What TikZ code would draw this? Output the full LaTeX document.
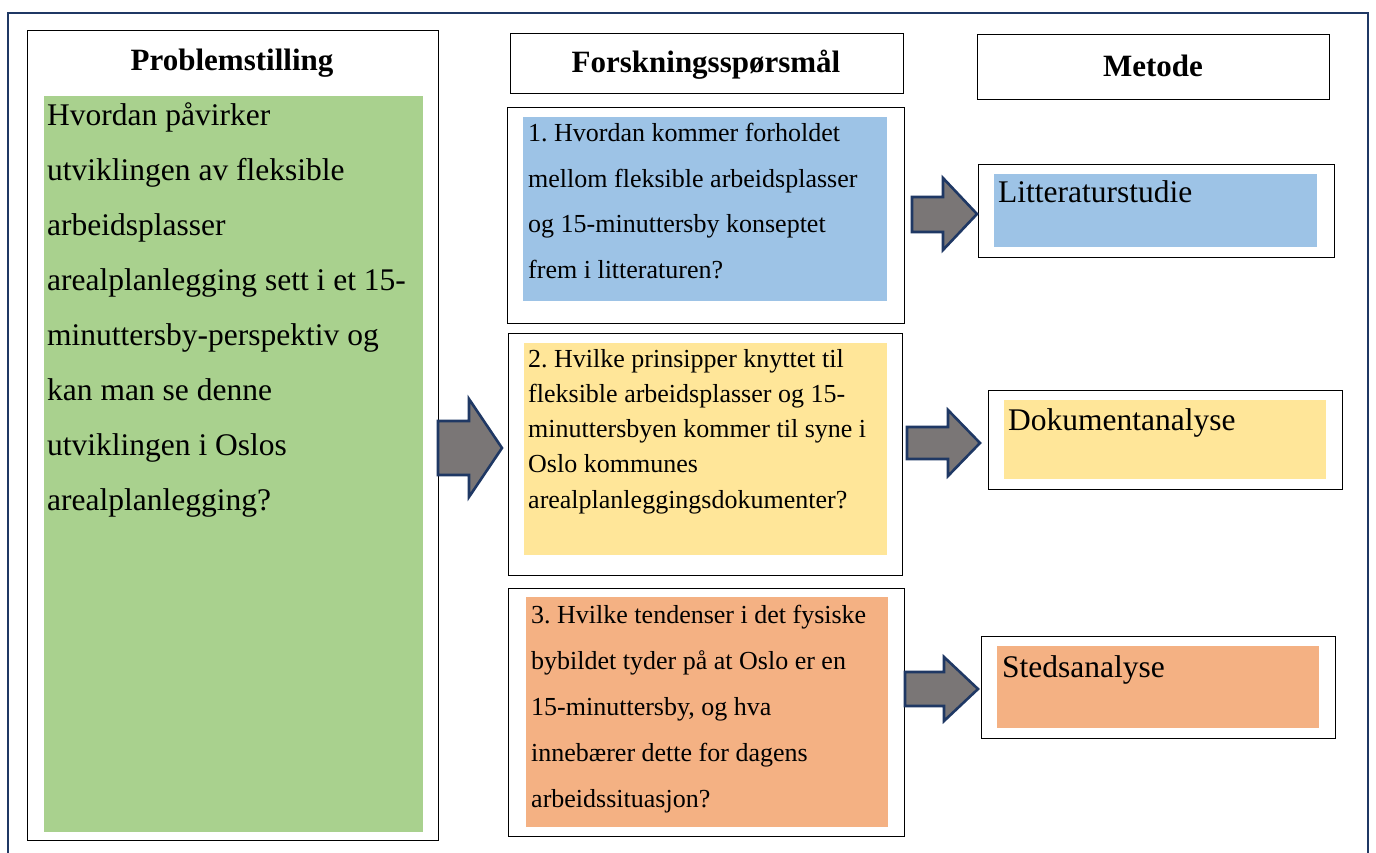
\documentclass[tikz,border=0pt]{standalone}
\usepackage{fontspec}
\setmainfont{Liberation Serif}
\frenchspacing
\definecolor{navy}{HTML}{1F3864}
\definecolor{pgreen}{HTML}{A9D18E}
\definecolor{pblue}{HTML}{9DC3E6}
\definecolor{pyellow}{HTML}{FFE699}
\definecolor{porange}{HTML}{F4B183}
\definecolor{arrowgray}{HTML}{7A7676}
\begin{document}
\begin{tikzpicture}[x=1pt,y=-1pt,
  outerbox/.style={draw=black,line width=1.4pt,fill=white,inner sep=0pt,anchor=north west},
  fillbox/.style={draw=none,inner sep=0pt,anchor=north west},
  headtext/.style={font=\fontsize{31}{36}\selectfont\bfseries,inner sep=0pt,anchor=base},
  blockarrow/.style={draw=navy,line width=2.6pt,fill=arrowgray,line join=miter},
  bodytext/.style={inner sep=0pt,anchor=base west}]
\useasboundingbox (0,0) rectangle (1376,853);
\fill[white] (0,0) rectangle (1376,853);
% outer frame
\draw[navy,line width=2.6pt] (8,860) -- (8,13) -- (1368,13) -- (1368,860);

% Problemstilling column
\node[outerbox,minimum width=411pt,minimum height=810pt] (pbox) at (27,30) {};
\node[fillbox,fill=pgreen,minimum width=379pt,minimum height=736pt] (pfill) at (44,96) {};
\node[headtext] (ptitle) at (232,71) {Problemstilling};
\node[bodytext] (ptext) at (47,126) {\parbox[t]{380pt}{\fontsize{31.5}{55}\selectfont\raggedright
Hvordan påvirker\\
utviklingen av fleksible\\
arbeidsplasser\\
arealplanlegging sett i et 15-\\
minuttersby-perspektiv og\\
kan man se denne\\
utviklingen i Oslos\\
arealplanlegging?}};

% headers
\node[outerbox,minimum width=393pt,minimum height=60pt] (fhead) at (510,33) {};
\node[headtext] (ftitle) at (706,73) {Forskningsspørsmål};
\node[outerbox,minimum width=352pt,minimum height=65pt] (mhead) at (977,34) {};
\node[headtext] (mtitle) at (1153,77) {Metode};

% questions
\node[outerbox,minimum width=397pt,minimum height=216pt] (q1box) at (507,107) {};
\node[fillbox,fill=pblue,minimum width=364pt,minimum height=184pt] (q1fill) at (523,117) {};
\node[bodytext] (q1text) at (528,142) {\parbox[t]{365pt}{\fontsize{26}{45.5}\selectfont\raggedright
1. Hvordan kommer forholdet\\
mellom fleksible arbeidsplasser\\
og 15-minuttersby konseptet\\
frem i litteraturen?}};

\node[outerbox,minimum width=394pt,minimum height=242pt] (q2box) at (508,333) {};
\node[fillbox,fill=pyellow,minimum width=363pt,minimum height=212pt] (q2fill) at (524,343) {};
\node[bodytext] (q2text) at (528,367) {\parbox[t]{365pt}{\fontsize{26}{35.3}\selectfont\raggedright
2. Hvilke prinsipper knyttet til\\
fleksible arbeidsplasser og 15-\\
minuttersbyen kommer til syne i\\
Oslo kommunes\\
arealplanleggingsdokumenter?}};

\node[outerbox,minimum width=396pt,minimum height=248pt] (q3box) at (508,588) {};
\node[fillbox,fill=porange,minimum width=362pt,minimum height=230pt] (q3fill) at (526,597) {};
\node[bodytext] (q3text) at (531,623) {\parbox[t]{365pt}{\fontsize{26}{46.2}\selectfont\raggedright
3. Hvilke tendenser i det fysiske\\
bybildet tyder på at Oslo er en\\
15-minuttersby, og hva\\
innebærer dette for dagens\\
arbeidssituasjon?}};

% methods
\node[outerbox,minimum width=356pt,minimum height=93pt] (lbox) at (978,164) {};
\node[fillbox,fill=pblue,minimum width=323pt,minimum height=73pt] (lfill) at (994,174) {};
\node[bodytext,font=\fontsize{31.5}{36}\selectfont] (ltext) at (998,203) {Litteraturstudie};

\node[outerbox,minimum width=354pt,minimum height=99pt] (dbox) at (988,390) {};
\node[fillbox,fill=pyellow,minimum width=322pt,minimum height=79pt] (dfill) at (1004,400) {};
\node[bodytext,font=\fontsize{31.5}{36}\selectfont] (dtext) at (1008,430) {Dokumentanalyse};

\node[outerbox,minimum width=354pt,minimum height=102pt] (sbox) at (981,636) {};
\node[fillbox,fill=porange,minimum width=322pt,minimum height=82pt] (sfill) at (997,646) {};
\node[bodytext,font=\fontsize{31.5}{36}\selectfont] (stext) at (1002,677) {Stedsanalyse};

% block arrows
\draw[blockarrow] (438,421) -- (469,421) -- (469,399) -- (502,448) -- (469,497) -- (469,475) -- (438,475) -- cycle;
\draw[blockarrow] (912,197) -- (943,197) -- (943,178) -- (977,214) -- (943,250) -- (943,232) -- (912,232) -- cycle;
\draw[blockarrow] (907,427) -- (948,427) -- (948,410) -- (980,443) -- (948,476) -- (948,459) -- (907,459) -- cycle;
\draw[blockarrow] (905,672) -- (944,672) -- (944,657) -- (978,689) -- (944,721) -- (944,706) -- (905,706) -- cycle;
\end{tikzpicture}
\end{document}
